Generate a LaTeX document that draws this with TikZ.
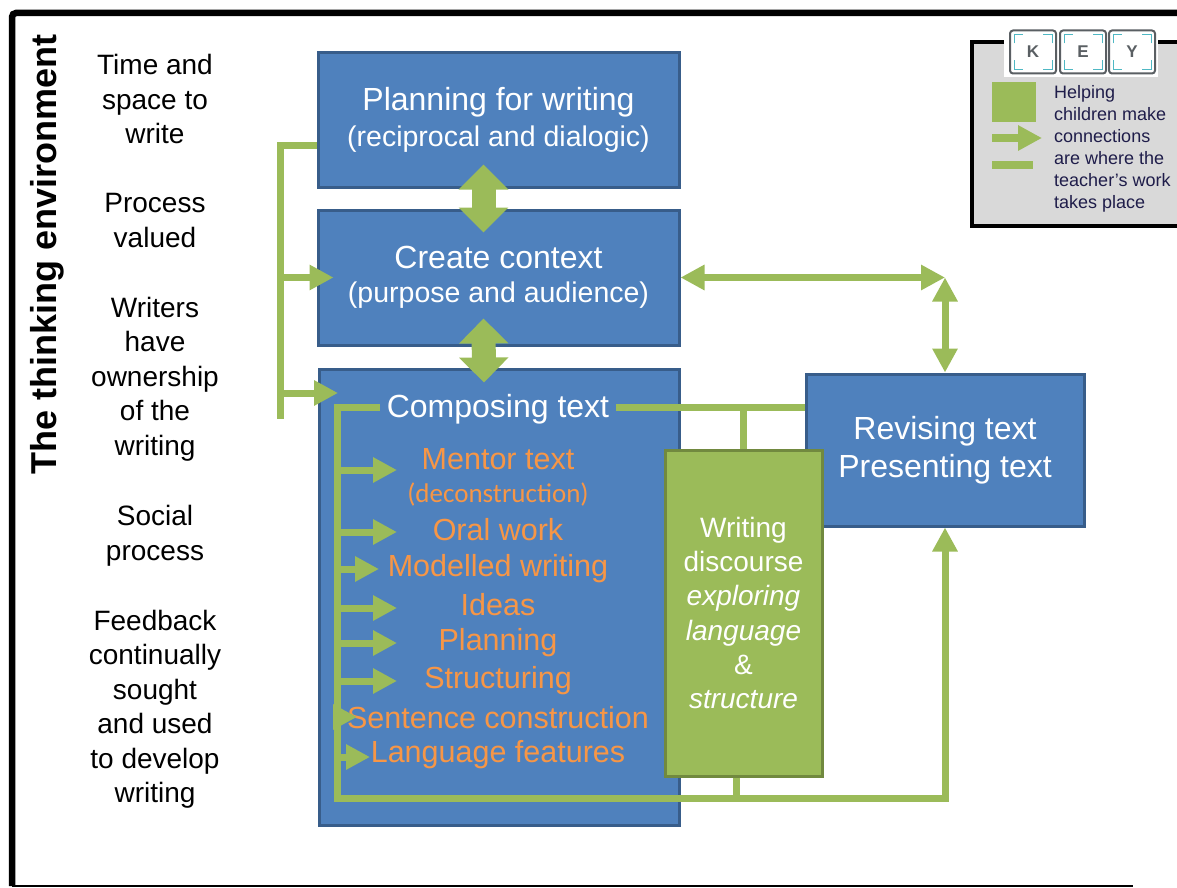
\documentclass[tikz,border=0pt]{standalone}
\usepackage{fontspec}
\setmainfont{Liberation Sans}
\newfontfamily\calibfont{Carlito}
\usetikzlibrary{arrows.meta}

\definecolor{boxblue}{HTML}{4F81BD}
\definecolor{boxedge}{HTML}{385D8A}
\definecolor{linkgreen}{HTML}{9BBB59}
\definecolor{greenedge}{HTML}{71893F}
\definecolor{itemorange}{HTML}{F79646}
\definecolor{keygray}{HTML}{D9D9D9}
\definecolor{tilegray}{HTML}{5A5F63}
\definecolor{tileteal}{HTML}{4FB8C4}
\definecolor{keyink}{HTML}{1F1D4A}

\tikzset{
    bluebox/.style={draw=boxedge,fill=boxblue,line width=3pt,inner sep=0pt,text=white,align=center},
    greenbox/.style={draw=greenedge,fill=linkgreen,line width=3pt,inner sep=0pt,text=white,align=center,
        font=\fontsize{28}{34.3}\selectfont},
    link/.style={draw=linkgreen,line width=7pt},
    arr/.style={link,-{Triangle[length=24pt,width=24pt]}},
    arrboth/.style={link,{Triangle[length=24pt,width=24pt]}-{Triangle[length=24pt,width=24pt]}},
    fatarr/.style={draw=linkgreen,line width=24pt,{Triangle[length=25pt,width=48pt]}-{Triangle[length=25pt,width=48pt]}},
    item/.style={text=itemorange,inner sep=0pt,font=\fontsize{30.5}{34}\selectfont},
    side/.style={align=center,inner sep=0pt,font=\fontsize{28}{34.5}\selectfont},
    keytile/.style={draw=tilegray,fill=white,line width=2pt,rounded corners=3pt,minimum width=46pt,
        minimum height=43pt,inner sep=0pt,text=tilegray,font=\bfseries\fontsize{17}{17}\selectfont},
    tilemark/.style={draw=tileteal,line width=1pt},
}

% #1-x  #2-nazwa  #3-litera
\newcommand{\keytile}[3]{%
    \node[keytile] (#2) at (#1,52) {#3};
    \draw[tilemark] ([shift={(5pt,-14pt)}]#2.north west) |- ([shift={(14pt,-5pt)}]#2.north west);
    \draw[tilemark] ([shift={(-5pt,-14pt)}]#2.north east) |- ([shift={(-14pt,-5pt)}]#2.north east);
    \draw[tilemark] ([shift={(5pt,14pt)}]#2.south west) |- ([shift={(14pt,5pt)}]#2.south west);
    \draw[tilemark] ([shift={(-5pt,14pt)}]#2.south east) |- ([shift={(-14pt,5pt)}]#2.south east);
}
% #1-nazwa  #2-x  #3-y
\newcommand{\branch}[3]{%
    \coordinate (#1) at (#2,#3);
    \draw[arr] (spT |- #1) -- (#1);
}

\begin{document}
\begin{tikzpicture}[x=1pt,y=-1pt]
    \useasboundingbox (0,0) rectangle (1177,888);
    % ramka
    \draw[line width=6.5pt,rounded corners=4pt] (1190,13) -- (12,13) -- (12,886);
    \draw[line width=2pt] (12,886) -- (1133,886);
    \node[rotate=90,inner sep=0pt,font=\bfseries\fontsize{36}{36}\selectfont] (title) at (47,254.5) {The thinking environment};
    % lewa kolumna
    \node[side] (time) at (155,99) {Time and\\space to\\write};
    \node[side] (process) at (155,220.5) {Process\\valued};
    \node[side] (owners) at (155,379) {Writers\\have\\ownership\\of the\\writing};
    \node[side] (social) at (155,536) {Social\\process};
    \node[side] (feedback) at (155,709.5) {Feedback\\continually\\sought\\and used\\to develop\\writing};
    % bloki
    \node[bluebox,minimum width=361pt,minimum height=134pt] (plan) at (498.5,120)
        {\fontsize{32}{34}\selectfont Planning for writing\\[7pt]\fontsize{28.5}{34}\selectfont (reciprocal and dialogic)};
    \node[bluebox,minimum width=361pt,minimum height=135pt] (ctx) at (498.5,277.5)
        {\fontsize{32}{35}\selectfont Create context\\[12pt]\fontsize{28.5}{35}\selectfont (purpose and audience)};
    \node[bluebox,minimum width=360pt,minimum height=456pt] (comp) at (499,597) {};
    \node[bluebox,minimum width=278pt,minimum height=152pt,font=\fontsize{32}{38}\selectfont] (rev) at (945,450)
        {Revising text\\Presenting text};
    \node[greenbox,minimum width=157pt,minimum height=326pt] (disc) at (743.5,613)
        {Writing\\discourse\\\textit{exploring}\\\textit{language}\\\&\\\textit{structure}};
    \node[text=white,inner xsep=7pt,inner ysep=0pt,font=\fontsize{32}{32}\selectfont] (comptxt) at (498,409) {Composing text};
    % elementy
    \node[item] (mentor) at (498,459) {Mentor text};
    \node[item,font=\calibfont\fontsize{27}{27}\selectfont] (decon) at (498,494) {(deconstruction)};
    \node[item] (oral) at (498,529.5) {Oral work};
    \node[item] (model) at (498,569) {Modelled writing};
    \node[item] (ideas) at (498,605) {Ideas};
    \node[item] (planning) at (498,643) {Planning};
    \node[item] (struct) at (498,681) {Structuring};
    \node[item] (sent) at (498,718) {Sentence construction};
    \node[item] (lang) at (498,755) {Language features};
    % polaczenia
    \draw[fatarr] ([xshift=-15pt,yshift=24pt]plan.south) -- ([xshift=-15pt,yshift=-24pt]ctx.north);
    \draw[fatarr] ([xshift=-15pt,yshift=28pt]ctx.south) -- ([xshift=-15pt,yshift=-15pt]comp.north);
    \coordinate (brT) at (280,145);
    \coordinate (brB) at (280,419);
    \draw[link] (brT -| plan.west) -- (brT) -- (brB);
    \draw[arr] (brB |- ctx.west) -- ([xshift=17pt]ctx.west);
    \coordinate (tipC) at (338,393);
    \draw[arr] (brB |- tipC) -- (tipC);
    \draw[arrboth] (ctx.east) -- (ctx.east -| rev.north);
    \draw[arrboth] (rev.north |- ctx.east) -- (rev.north);
    \coordinate (spT) at (337,407);
    \coordinate (spB) at (337,798);
    \draw[arr] (comptxt.west |- spT) -- (spT) -- (spB) -- (spB -| rev.south) -- (rev.south);
    \draw[link] (comptxt.east |- spT) -- (spT -| rev.west);
    \draw[link] (disc.north) -- (disc.north |- spT);
    \draw[link] ([xshift=-7pt]disc.south) -- ([xshift=-7pt]disc.south |- spB);
    \branch{tipM}{397}{470}
    \branch{tipO}{397}{532}
    \branch{tipMW}{379}{569}
    \branch{tipI}{397}{608}
    \branch{tipP}{397}{643}
    \branch{tipS}{397}{681}
    \branch{tipSC}{357}{717}
    \branch{tipL}{370}{757}
    % klucz
    \draw[fill=keygray,line width=3.5pt] (972,42) rectangle (1195,226);
    \fill[white] (1004,27) rectangle (1158,77);
    \keytile{1033}{keyK}{K}
    \keytile{1083}{keyE}{E}
    \keytile{1132}{keyY}{Y}
    \node[fill=linkgreen,minimum width=44pt,minimum height=40pt,inner sep=0pt] (keysq) at (1014,102) {};
    \coordinate (keyA) at (992,138);
    \coordinate (keyAt) at (1042,138);
    \draw[arr,line width=8pt] (keyA) -- (keyAt);
    \coordinate (keyB) at (992,165);
    \coordinate (keyBe) at (1033,165);
    \draw[link,line width=8pt] (keyB) -- (keyBe);
    \node[anchor=north west,align=left,inner sep=0pt,text=keyink,font=\fontsize{18}{22}\selectfont] (keytxt) at (1054,85)
        {Helping\\children make\\connections\\are where the\\teacher’s work\\takes place};
\end{tikzpicture}
\end{document}
